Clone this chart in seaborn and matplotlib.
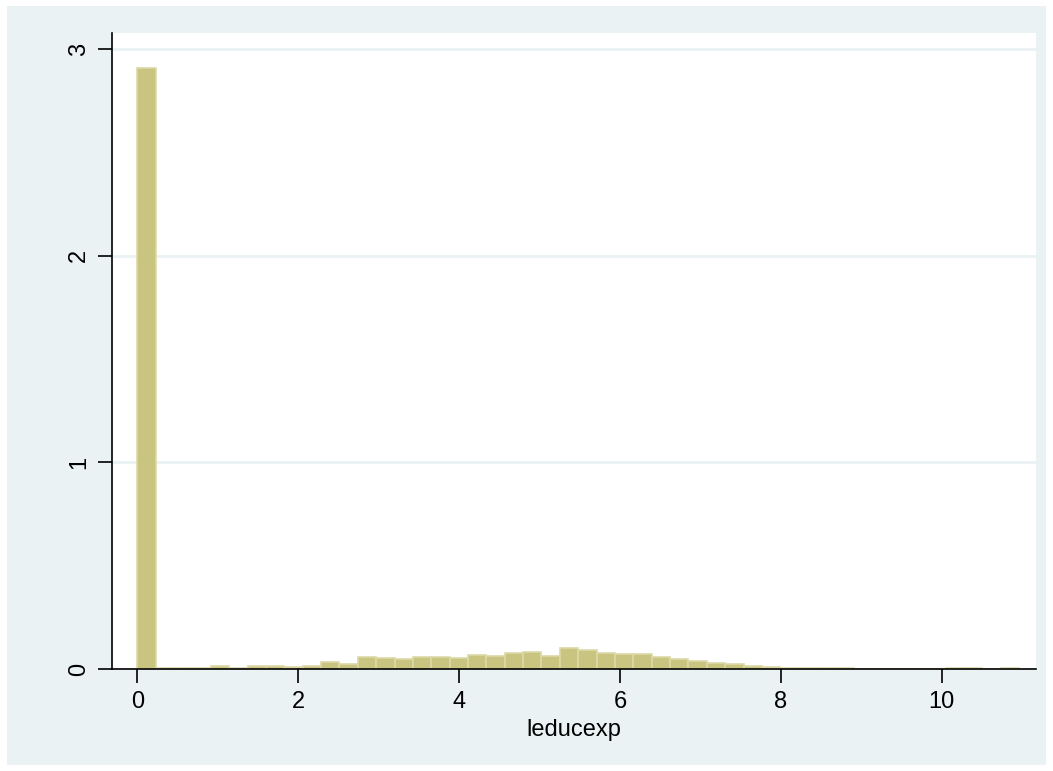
import numpy as np
import pandas as pd
import matplotlib
matplotlib.use("Agg")
import matplotlib.pyplot as plt
from matplotlib.patches import Rectangle
import seaborn as sns

# Histogram of leducexp: 48 bins from 0 to ~10.96, densities
x_min = 0.0
x_max = 10.96
n_bins = 48
density = [
    2.907, 0.004, 0.004, 0.004, 0.013, 0.004, 0.013, 0.016,
    0.012, 0.016, 0.032, 0.026, 0.060, 0.055, 0.050, 0.060,
    0.058, 0.052, 0.066, 0.061, 0.078, 0.081, 0.063, 0.102,
    0.094, 0.076, 0.071, 0.071, 0.060, 0.050, 0.040, 0.029,
    0.024, 0.016, 0.008, 0.004, 0.003, 0.003, 0.003, 0.002,
    0.002, 0.002, 0.0, 0.0, 0.003, 0.003, 0.0, 0.003,
]
x_ticks = [0, 2, 4, 6, 8, 10]
y_ticks = [0, 1, 2, 3]
x_label = "leducexp"

edges = np.linspace(x_min, x_max, n_bins + 1)
centers = (edges[:-1] + edges[1:]) / 2
df = pd.DataFrame({"leducexp": centers, "density": density})

sns.set_style("white")
plt.rcParams["font.family"] = ["Liberation Sans", "DejaVu Sans"]
plt.rcParams["text.color"] = "black"
plt.rcParams["axes.labelcolor"] = "black"
plt.rcParams["xtick.color"] = "black"
plt.rcParams["ytick.color"] = "black"

fig = plt.figure(figsize=(10.53, 7.71), dpi=100)
fig.patch.set_facecolor("white")
W, H = 1053, 771
fig.patches.append(Rectangle((7 / W, 6 / H), (W - 14) / W, (H - 12) / H,
                             transform=fig.transFigure, facecolor="#EAF2F3",
                             edgecolor="none", zorder=-10))

left, right, top, bottom = 112, 1036, 33, 669
ax = fig.add_axes([left / W, 1 - bottom / H, (right - left) / W, (bottom - top) / H])
ax.set_facecolor("white")

sns.histplot(data=df, x="leducexp", weights="density", bins=n_bins,
             binrange=(x_min, x_max), stat="count",
             color="#C9C480", alpha=1, edgecolor="#DDD9A8", linewidth=1.2, ax=ax,
             zorder=3)

ax.set_xlim(-0.315, 11.17)
ax.set_ylim(0, 3.078)
ax.set_xticks(x_ticks)
ax.set_yticks(y_ticks)
ax.set_yticklabels([str(v) for v in y_ticks], rotation=90, va="center")
ax.yaxis.grid(True, color="#EAF2F3", linewidth=2, zorder=0)
ax.xaxis.grid(False)
ax.set_axisbelow(True)

for s in ["top", "right"]:
    ax.spines[s].set_visible(False)
for s in ["left", "bottom"]:
    ax.spines[s].set_color("black")
    ax.spines[s].set_linewidth(1.2)
    ax.spines[s].set_zorder(5)

ax.tick_params(axis="both", direction="out", length=10, width=1.2, color="black",
               labelcolor="black", labelsize=17, pad=6, left=True, bottom=True)
ax.set_xlabel(x_label, fontsize=17, labelpad=4, color="black")
ax.set_ylabel("")

fig.savefig("out.png", dpi=100, facecolor=fig.get_facecolor())
